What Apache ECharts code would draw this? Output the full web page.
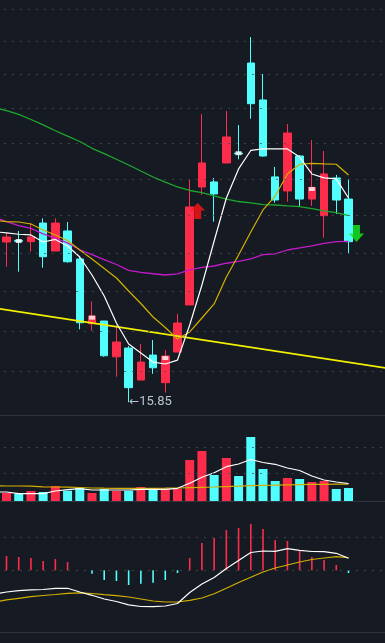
<!DOCTYPE html>
<html>
<head>
<meta charset="utf-8">
<script src="https://cdn.jsdelivr.net/npm/echarts@6/dist/echarts.min.js"></script>
<style>
html,body{margin:0;padding:0;background:#161a23;}
#chart{width:385px;height:643px;}
</style>
</head>
<body>
<div id="chart"></div>
<script>
// ---- data ----
const categories = ['D00','D01','D02','D03','D04','D05','D06','D07','D08','D09','D10','D11','D12','D13','D14','D15','D16','D17','D18','D19','D20','D21','D22','D23','D24','D25','D26','D27','D28','D29','D30','D31','D32'];

// [open, close, low, high]; index 0 is the bar just left of the window
const candles = [
  null,
  [17.802, 17.867, 17.486, 17.923],
  [17.822, 17.812, 17.423, 17.945],
  [17.806, 17.867, 17.677, 18.049],
  [18.048, 17.613, 17.473, 18.110],
  [17.686, 18.048, 17.686, 18.110],
  [17.945, 17.549, 17.537, 18.062],
  [17.584, 16.790, 16.710, 17.613],
  [16.778, 16.872, 16.694, 17.053],
  [16.811, 16.393, 16.381, 16.811],
  [16.381, 16.557, 16.146, 16.762],
  [16.485, 16.018, 15.85, 16.509],
  [16.107, 16.318, 16.107, 16.533],
  [16.401, 16.251, 16.180, 16.581],
  [16.076, 16.390, 15.960, 16.461],
  [16.437, 16.787, 16.437, 16.897],
  [17.008, 18.260, 17.008, 18.621],
  [18.526, 18.852, 18.419, 19.531],
  [18.594, 18.433, 18.066, 18.648],
  [18.851, 19.210, 18.851, 19.575],
  [18.987, 18.977, 18.902, 19.377],
  [20.268, 19.679, 19.466, 20.653],
  [19.732, 18.947, 18.937, 20.107],
  [18.662, 18.352, 18.316, 18.797],
  [18.473, 19.265, 18.330, 19.392],
  [18.947, 18.365, 18.273, 18.961],
  [18.365, 18.522, 18.273, 19.168],
  [18.145, 18.702, 17.858, 19.016],
  [18.648, 18.352, 18.167, 18.689],
  [18.365, 17.806, 17.661, 18.635]
];

const ma5 = [17.936,17.919,17.902,17.893,17.802,17.835,17.751,17.609,17.381,17.119,16.787,16.533,16.426,16.318,16.295,16.342,16.763,17.256,17.815,18.379,18.770,19.023,19.044,19.044,19.044,18.933,18.702,18.648,18.635,18.379];
const ma10 = [18.082,18.068,18.062,18.036,17.958,17.893,17.822,17.699,17.584,17.463,17.343,17.181,17.026,16.860,16.732,16.593,16.678,16.848,17.020,17.356,17.635,17.932,18.220,18.405,18.702,18.834,18.847,18.838,18.834,18.688];
const maGreen = [19.625,19.579,19.526,19.455,19.378,19.297,19.221,19.147,19.053,18.980,18.902,18.824,18.742,18.661,18.591,18.526,18.479,18.450,18.407,18.365,18.332,18.315,18.291,18.286,18.275,18.265,18.238,18.207,18.184,18.147];
const maPurple = [18.128,18.068,18.015,17.978,17.906,17.849,17.790,17.702,17.640,17.577,17.514,17.440,17.415,17.397,17.381,17.396,17.447,17.478,17.495,17.530,17.553,17.586,17.639,17.649,17.699,17.725,17.753,17.784,17.807,17.811];

// straight trend line: value at first and last category
const trendStart = 16.97, trendEnd = 16.25;

// white square markers and signal arrows
const markerIdx = [2, 8, 14, 20, 26];
const markerPrice = [17.815, 16.852, 16.366, 18.985, 18.499];
const buySignal = [16, 18.207];
const sellSignal = [29, 17.913];

// price axis (log) range and dotted grid levels
const priceMin = 15.704, priceMax = 21.215;
const priceLevels = [21.073, 20.589, 20.107, 19.613, 19.122, 18.630, 18.150, 17.657, 17.177, 16.686, 16.209];

// volume
const volume = [null, 8, 7.3, 10, 9, 15, 10.3, 13, 8, 12, 10, 10.3, 14, 12, 12, 12, 41, 50, 26, 43, 25, 64, 32, 20, 23, 22, 19, 20, 12, 13];
const volMa5 = [9, 9, 7.3, 7.3, 7.3, 10, 11.3, 12.3, 11, 11, 11, 11, 11.7, 11.7, 11.7, 12.7, 17.7, 23.7, 28.3, 34.3, 37, 41.5, 38.5, 36.7, 33, 30.5, 25, 21, 19, 17.5];
const volMaLong = [15.2, 15, 15, 14.8, 14.2, 14, 13.8, 13.5, 13, 12.8, 12.7, 12.7, 12.7, 12.7, 12.8, 13, 13.4, 13.7, 14, 14.4, 14.8, 15.3, 15.6, 15.8, 16.1, 16.4, 16.6, 16.7, 16.8, 16.8];
const volMax = 86;
const volLevels = [27.7, 53.7];

// MACD
const macdHist = [null, 0.143, 0.133, 0.123, 0.093, 0.113, 0.083, 0, -0.034, -0.097, -0.107, -0.147, -0.134, -0.124, -0.097, -0.027, 0.123, 0.273, 0.323, 0.403, 0.423, 0.463, 0.413, 0.303, 0.293, 0.203, 0.133, 0.103, 0.053, -0.027];
const dif = [-0.237,-0.217,-0.204,-0.196,-0.192,-0.180,-0.180,-0.217,-0.250,-0.287,-0.312,-0.345,-0.362,-0.364,-0.357,-0.332,-0.222,-0.137,-0.072,0.018,0.098,0.178,0.193,0.190,0.217,0.200,0.188,0.186,0.170,0.120];
const dea = [-0.317,-0.296,-0.280,-0.264,-0.252,-0.242,-0.230,-0.226,-0.232,-0.243,-0.253,-0.267,-0.287,-0.307,-0.317,-0.317,-0.300,-0.277,-0.235,-0.180,-0.122,-0.070,-0.017,0.023,0.053,0.083,0.108,0.123,0.136,0.126];
const macdMin = -0.62, macdMax = 0.693;
const macdLevels = [0, 0.33];

// ---- styles ----
const RED = '#fe2c4b', CYAN = '#52fdfd';
const DOT = {type: [1.5, 6.5], width: 1, color: '#4a4e58'};
const AXISLINE = '#30343d';

const chart = echarts.init(document.getElementById('chart'), null, {renderer: 'canvas'});

let lowIdx = -1, lowVal = Infinity;
candles.forEach((c, i) => { if (c && c[2] < lowVal) { lowVal = c[2]; lowIdx = i; } });

const trendData = categories.map((_, i) => i === 0 ? trendStart : (i === categories.length - 1 ? trendEnd : null));
const blank = categories.map(() => '-');

const GL = -11.82, GW = 403.06;
function gridAt(top, height) {
  return {left: GL, width: GW, top: top, height: height, containLabel: false, outerBoundsMode: 'none'};
}
function xAx(i) {
  return {type: 'category', gridIndex: i, data: categories, boundaryGap: true,
    axisTick: {show: false}, axisLabel: {show: false}, splitLine: {show: false},
    axisLine: {show: true, onZero: false, lineStyle: {color: AXISLINE, width: 1}}};
}
function levelSeries(gi, levels) {
  return {type: 'line', xAxisIndex: gi, yAxisIndex: gi, data: blank, symbol: 'none', z: 1, silent: true,
    markLine: {silent: true, symbol: 'none', animation: false, label: {show: false},
      lineStyle: DOT, emphasis: {disabled: true}, data: levels.map(v => ({yAxis: v}))}};
}
function lineS(gi, data, color, width, extra) {
  return Object.assign({type: 'line', xAxisIndex: gi, yAxisIndex: gi, data: data, symbol: 'none', showSymbol: false,
    lineStyle: {color: color, width: width}, itemStyle: {color: color}, z: 4, silent: true}, extra || {});
}

const upArrow = 'path://M7.5,0 L15,7.5 L11,7.5 L11,16 L4,16 L4,7.5 L0,7.5 Z';
const downArrow = 'path://M4,0 L11,0 L11,8.5 L15,8.5 L7.5,17 L0,8.5 L4,8.5 Z';

chart.setOption({
  backgroundColor: '#161a23',
  animation: false,
  grid: [gridAt(0, 415), gridAt(415, 86), gridAt(501, 131.3)],
  xAxis: [xAx(0), xAx(1), xAx(2)],
  yAxis: [
    {type: 'log', gridIndex: 0, min: priceMin, max: priceMax, show: false},
    {type: 'value', gridIndex: 1, min: 0, max: volMax, show: false},
    {type: 'value', gridIndex: 2, min: macdMin, max: macdMax, show: false}
  ],
  series: [
    levelSeries(0, priceLevels),
    levelSeries(1, volLevels),
    levelSeries(2, macdLevels),
    {type: 'candlestick', xAxisIndex: 0, yAxisIndex: 0, barWidth: 8, z: 3, silent: true,
      data: candles.map(c => c ? c : ['-', '-', '-', '-']),
      itemStyle: {color: RED, color0: CYAN, borderColor: RED, borderColor0: CYAN, borderWidth: 1}},
    lineS(0, trendData, '#f2f200', 1.8, {connectNulls: true}),
    lineS(0, maGreen, '#1fa82d', 1.3),
    lineS(0, maPurple, '#c31bc9', 1.3),
    lineS(0, ma10, '#d3b000', 1.2),
    lineS(0, ma5, '#ffffff', 1.2),
    {type: 'scatter', xAxisIndex: 0, yAxisIndex: 0, symbol: 'rect', symbolSize: [6, 4], z: 5, silent: true,
      itemStyle: {color: '#ffffff'}, data: markerIdx.map((i, k) => [i, markerPrice[k]])},
    {type: 'scatter', xAxisIndex: 0, yAxisIndex: 0, symbol: upArrow, symbolSize: [15, 16], symbolOffset: [8, 0], z: 6, silent: true,
      itemStyle: {color: '#ff1414'}, data: [buySignal]},
    {type: 'scatter', xAxisIndex: 0, yAxisIndex: 0, symbol: downArrow, symbolSize: [15, 17], symbolOffset: [8, 0], z: 6, silent: true,
      itemStyle: {color: '#14f01e'}, data: [sellSignal]},
    {type: 'scatter', xAxisIndex: 0, yAxisIndex: 0, symbol: 'circle', symbolSize: 1, z: 6, silent: true,
      itemStyle: {color: 'rgba(0,0,0,0)'}, data: [[lowIdx, lowVal]],
      label: {show: true, position: 'right', distance: 0,
        formatter: p => '{a|\u2190}{b|' + p.value[1].toFixed(2) + '}',
        rich: {
          a: {color: '#e2ecf8', fontSize: 12, fontFamily: 'DejaVu Sans'},
          b: {color: '#e2ecf8', fontSize: 13, fontFamily: 'Roboto'}
        }}},
    {type: 'bar', xAxisIndex: 1, yAxisIndex: 1, barWidth: 9, z: 3, silent: true,
      data: volume.map(v => v == null ? '-' : v),
      itemStyle: {color: p => { const c = candles[p.dataIndex]; return c && c[1] >= c[0] ? RED : CYAN; }}},
    lineS(1, volMaLong, '#d3b000', 1.2),
    lineS(1, volMa5, '#ffffff', 1.2),
    {type: 'bar', xAxisIndex: 2, yAxisIndex: 2, barWidth: 1.6, z: 3, silent: true,
      data: macdHist.map(v => v == null ? '-' : v),
      itemStyle: {color: p => p.value >= 0 ? RED : CYAN}},
    lineS(2, dea, '#d3b000', 1.2),
    lineS(2, dif, '#ffffff', 1.2)
  ]
});
</script>
</body>
</html>
